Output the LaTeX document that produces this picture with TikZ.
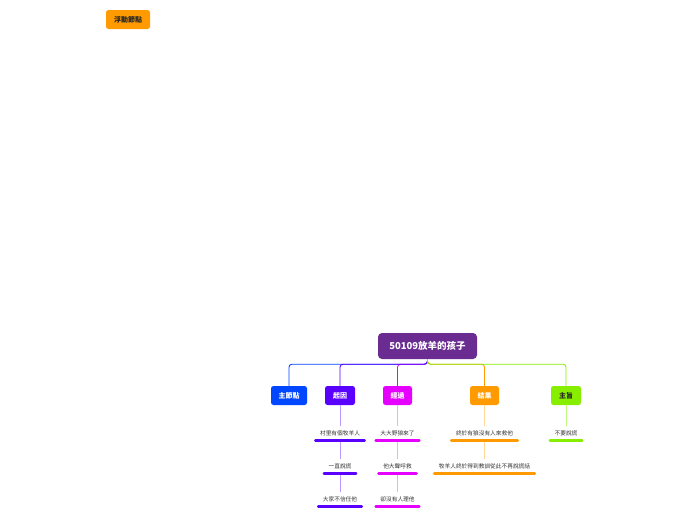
\documentclass[tikz,border=0pt]{standalone}
\usepackage{fontspec}
\newfontfamily\cjk{Noto Sans CJK TC}
\definecolor{cOrange}{HTML}{FF9A00}
\definecolor{cPurple}{HTML}{6A2C91}
\definecolor{cBlue}{HTML}{0047FF}
\definecolor{cViolet}{HTML}{5A00FF}
\definecolor{cMagenta}{HTML}{E600FF}
\definecolor{cLime}{HTML}{88EE00}
\begin{document}
\begin{tikzpicture}[x=1pt,y=-1pt,
  topic/.style={rounded corners=2.5pt, minimum height=19pt, inner sep=0pt,
    font=\cjk\fontsize{7}{8}\selectfont\bfseries, text=white},
  rootbox/.style={rounded corners=4pt, fill=cPurple, minimum width=99pt, minimum height=26pt,
    inner sep=0pt, font=\cjk\fontsize{9.5}{11}\selectfont\bfseries, text=white},
  sub/.style={font=\cjk\fontsize{5.7}{6.5}\selectfont, text=black!80, inner xsep=4.5pt, inner ysep=0pt, minimum height=14pt},
  mainline/.style={line width=0.9pt, rounded corners=3pt},
  subline/.style={line width=0.7pt},
  uline/.style={line width=2.6pt, line cap=round}
]
\useasboundingbox (0,0) rectangle (696,520);
\fill[white] (0,0) rectangle (696,520);

% floating node
\node[topic, fill=cOrange, text=black!85, minimum width=44pt] (float) at (128,19.5) {浮動節點};

% root
\node[rootbox] (root) at (427.5,346) {50109放羊的孩子};

% main topics
\node[topic, fill=cBlue, minimum width=36pt] (t1) at (289,395.5) {主節點};
\node[topic, fill=cViolet, minimum width=30pt] (t2) at (340,395.5) {起因};
\node[topic, fill=cMagenta, minimum width=29pt] (t3) at (397.5,395.5) {經過};
\node[topic, fill=cOrange, minimum width=29pt] (t4) at (484.5,395.5) {結果};
\node[topic, fill=cLime, text=black!85, minimum width=30pt] (t5) at (566,395.5) {主旨};

% connectors root -> topics
\draw[mainline, cBlue] (root.south) -- ++(0,5) -| (t1.north);
\draw[mainline, cMagenta] (root.south) -- ++(0,5) -| (t3.north);
\draw[mainline, cViolet] (root.south) -- ++(0,5) -| (t2.north);
\draw[mainline, cOrange] (root.south) -- ++(0,5) -| (t4.north);
\draw[mainline, cLime] (root.south) -- ++(0,5) -| (t5.north);

% subtopics
\node[sub] (a1) at (340,433) {村里有個牧羊人};
\node[sub] (a2) at (340,466) {一直說謊};
\node[sub] (a3) at (340,499) {大家不信任他};
\node[sub] (b1) at (397.5,433) {大大野狼來了};
\node[sub] (b2) at (397.5,466) {他大聲呼救};
\node[sub] (b3) at (397.5,499) {卻沒有人理他};
\node[sub] (c1) at (484.5,433) {終於有狼沒有人來救他};
\node[sub] (c2) at (484.5,466) {牧羊人終於得到教訓從此不再說謊話};
\node[sub] (d1) at (566,433) {不要說謊};

% sub connectors
\draw[subline, cViolet!40] (t2.south) -- (a1.north);
\draw[subline, cViolet!40] (a1.south) -- (a2.north);
\draw[subline, cViolet!40] (a2.south) -- (a3.north);
\draw[subline, cMagenta!35] (t3.south) -- (b1.north);
\draw[subline, cMagenta!35] (b1.south) -- (b2.north);
\draw[subline, cMagenta!35] (b2.south) -- (b3.north);
\draw[subline, cOrange!40] (t4.south) -- (c1.north);
\draw[subline, cOrange!40] (c1.south) -- (c2.north);
\draw[subline, cLime!50] (t5.south) -- (d1.north);

% underlines
\foreach \n in {a1,a2,a3} \draw[uline, cViolet] (\n.south west) -- (\n.south east);
\foreach \n in {b1,b2,b3} \draw[uline, cMagenta] (\n.south west) -- (\n.south east);
\foreach \n in {c1,c2} \draw[uline, cOrange] (\n.south west) -- (\n.south east);
\draw[uline, cLime] (d1.south west) -- (d1.south east);
\end{tikzpicture}
\end{document}
